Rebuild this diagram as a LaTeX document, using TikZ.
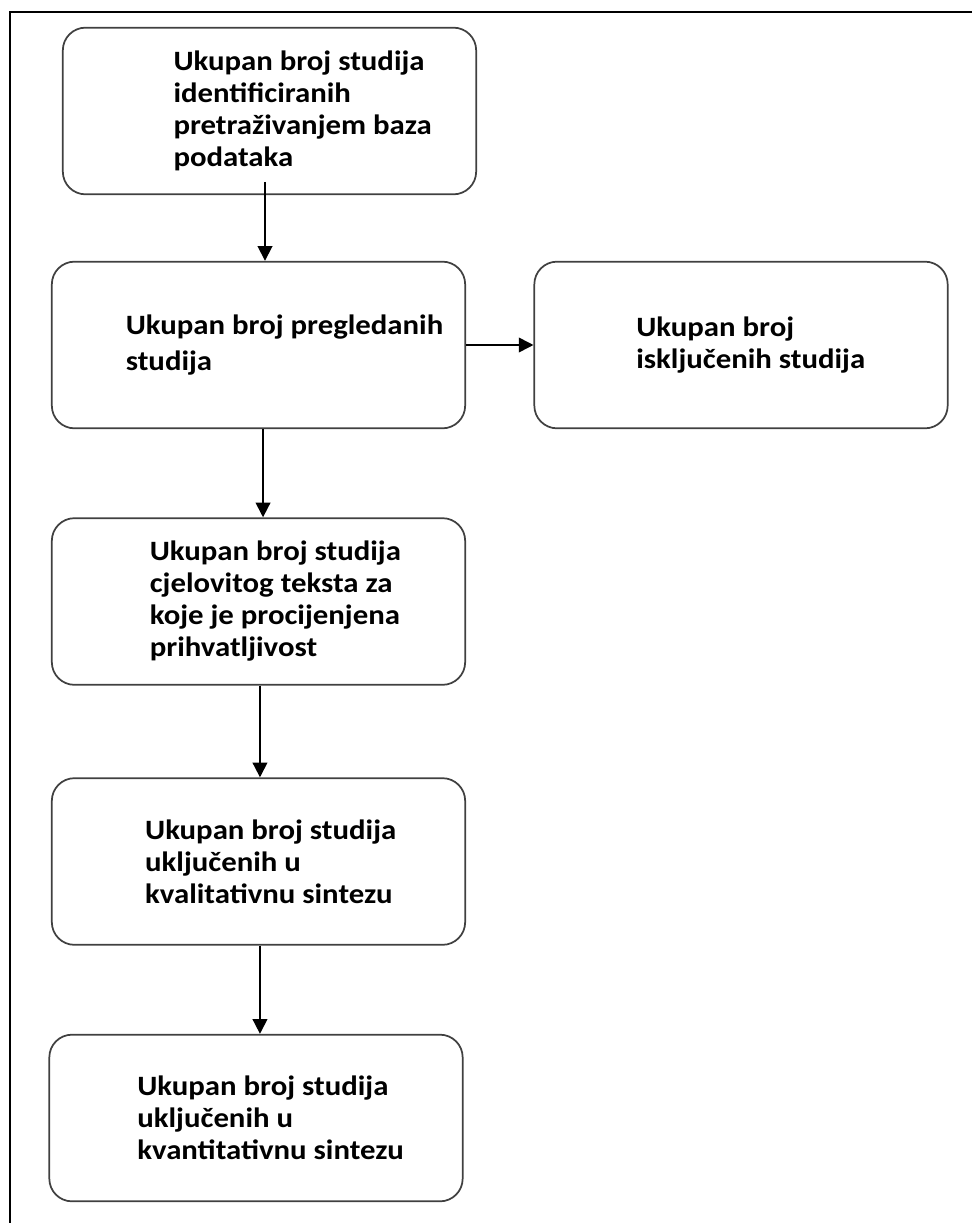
\documentclass[tikz,border=0pt]{standalone}
\usepackage{fontspec}
\setmainfont{Carlito}[FakeStretch=1.1]
\usetikzlibrary{arrows.meta}

\newcommand{\uvlaka}[1]{\leftskip=#1\relax\spaceskip=0pt\relax\xspaceskip=0pt\relax}

\begin{document}
\begin{tikzpicture}[x=0.75pt, y=-0.75pt,
        okvir/.style={draw=black!75, line width=1.3pt, rounded corners=17pt,
            text width=310pt, inner xsep=0pt, minimum height=125pt, align=left,
            font=\fontsize{21pt}{24pt}\selectfont\bfseries},
        strelica/.style={line width=1.3pt, -{Triangle[length=11pt, width=11pt]}}]
        \useasboundingbox (0,0) rectangle (972,1223);

        %%%%%%%%%% Okvir %%%%%%%%%%
        \draw[line width=2.2pt] (972,12) -- (10,12) -- (10,1223);

        %%%%%%%%%% Čvorovi %%%%%%%%%%
        \node[okvir] (A) at (269.5,111) {\uvlaka{83pt}Ukupan broj studija\\identificiranih\\pretraživanjem baza\\podataka\par};
        \node[okvir] (B) at (258.5,345) {\uvlaka{55.5pt}Ukupan broj pregledanih\\[3pt]studija\par};
        \node[okvir] (C) at (741,345)   {\uvlaka{76.5pt}Ukupan broj\\isključenih studija\par};
        \node[okvir] (D) at (258.5,601.5) {\uvlaka{73.5pt}Ukupan broj studija\\cjelovitog teksta za\\koje je procijenjena\\prihvatljivost\par};
        \node[okvir] (E) at (258.5,861.5) {\uvlaka{70pt}Ukupan broj studija\\uključenih u\\kvalitativnu sintezu\par};
        \node[okvir] (F) at (256,1118)  {\uvlaka{66pt}Ukupan broj studija\\uključenih u\\kvantitativnu sintezu\par};

        %%%%%%%%% Strelice %%%%%%%%%%
        \coordinate (a1) at (265,182);
        \draw[strelica] (a1) -- (a1 |- B.north);
        \draw[strelica] (B.east) -- (C.west);
        \draw[strelica] ([xshift=3.4pt]B.south) -- ([xshift=3.4pt]D.north);
        \draw[strelica] ([xshift=1.1pt]D.south) -- ([xshift=1.1pt]E.north);
        \draw[strelica] ([xshift=1.1pt]E.south) -- ([xshift=1.1pt]E.south |- F.north);
    \end{tikzpicture}
\end{document}
